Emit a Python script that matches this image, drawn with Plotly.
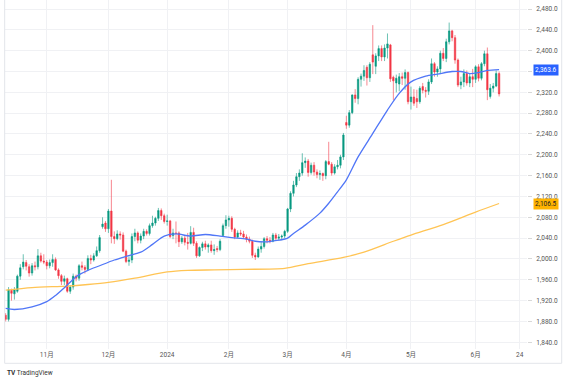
import plotly.graph_objects as go

# trading days by month (day numbers)
MONTH_DAYS = [
    ("2023-10", [12, 13, 16, 17, 18, 19, 20, 23, 24, 25, 26, 27, 30, 31]),
    ("2023-11", [1, 2, 3, 6, 7, 8, 9, 10, 13, 14, 15, 16, 17, 20, 21, 22, 24, 27, 28, 29, 30]),
    ("2023-12", [1, 4, 5, 6, 7, 8, 11, 12, 13, 14, 15, 18, 19, 20, 21, 22, 26, 27, 28, 29]),
    ("2024-01", [2, 3, 4, 5, 8, 9, 10, 11, 12, 16, 17, 18, 19, 22, 23, 24, 25, 26, 29, 30, 31]),
    ("2024-02", [1, 2, 5, 6, 7, 8, 9, 12, 13, 14, 15, 16, 20, 21, 22, 23, 26, 27, 28, 29]),
    ("2024-03", [1, 4, 5, 6, 7, 8, 11, 12, 13, 14, 15, 18, 19, 20, 21, 22, 25, 26, 27, 28]),
    ("2024-04", [1, 2, 3, 4, 5, 8, 9, 10, 11, 12, 15, 16, 17, 18, 19, 22, 23, 24, 25, 26, 29, 30]),
    ("2024-05", [1, 2, 3, 6, 7, 8, 9, 10, 13, 14, 15, 16, 17, 20, 21, 22, 23, 24, 28, 29, 30, 31]),
    ("2024-06", [3, 4, 5, 6, 7, 10, 11, 12, 13]),
]
dates = [f"{m}-{d:02d}" for m, days in MONTH_DAYS for d in days]

opens = [1892, 1884, 1940, 1933, 1938, 1967, 1985, 1993, 1985, 1973, 1987, 1985, 2006, 1996,
         1994, 1987, 1993, 1999, 1979, 1968, 1957, 1962, 1938, 1946, 1967, 1963, 1987, 1984, 1980, 2001, 1998, 2006, 2016, 2062, 2069,
         2058, 2092, 2043, 2039, 2048, 2046, 2015, 1995, 1998, 2043, 2050, 2036, 2044, 2053, 2049, 2064, 2069, 2078, 2093, 2083,
         2072, 2073, 2045, 2050, 2050, 2033, 2040, 2032, 2030, 2051, 2030, 2006, 2022, 2029, 2023, 2027, 2016, 2020, 2018, 2045, 2064,
         2075, 2078, 2057, 2042, 2050, 2048, 2042, 2038, 2034, 2007, 2004, 2019, 2024, 2039, 2036, 2034, 2046, 2040, 2042, 2044,
         2053, 2096, 2126, 2142, 2158, 2165, 2185, 2188, 2166, 2180, 2167, 2162, 2164, 2160, 2187, 2182, 2165, 2177, 2180, 2196,
         2262, 2257, 2281, 2315, 2308, 2345, 2351, 2368, 2348, 2392, 2370, 2390, 2404, 2388, 2405, 2411, 2349, 2338, 2336, 2350, 2347, 2358,
         2302, 2311, 2308, 2302, 2331, 2324, 2322, 2340, 2375, 2359, 2365, 2395, 2385, 2417, 2438, 2425, 2382, 2334, 2340, 2356, 2338, 2350,
         2345, 2369, 2347, 2375, 2394, 2312, 2328, 2332, 2356]
highs = [1896, 1946, 1943, 1946, 1970, 1990, 2009, 1998, 1990, 1992, 1995, 2019, 2012, 2009,
         1998, 1999, 2009, 2003, 1982, 1971, 1968, 1964, 1950, 1972, 1970, 1990, 1995, 1988, 2007, 2008, 2011, 2024, 2046, 2080, 2073,
         2096, 2152, 2053, 2055, 2053, 2051, 2018, 2005, 2049, 2058, 2053, 2049, 2058, 2057, 2068, 2083, 2081, 2098, 2097, 2087,
         2085, 2075, 2058, 2072, 2053, 2044, 2046, 2050, 2063, 2060, 2034, 2024, 2033, 2035, 2030, 2035, 2028, 2025, 2038, 2068, 2084,
         2083, 2082, 2060, 2055, 2056, 2054, 2047, 2043, 2037, 2012, 2024, 2034, 2042, 2044, 2042, 2050, 2050, 2048, 2047, 2056,
         2098, 2130, 2150, 2165, 2172, 2203, 2195, 2192, 2185, 2186, 2172, 2170, 2166, 2190, 2225, 2186, 2182, 2190, 2200, 2242,
         2275, 2286, 2316, 2326, 2349, 2356, 2372, 2372, 2378, 2449, 2395, 2410, 2410, 2412, 2433, 2413, 2352, 2354, 2357, 2358, 2364, 2360,
         2331, 2326, 2325, 2332, 2338, 2330, 2345, 2385, 2378, 2370, 2400, 2405, 2423, 2454, 2440, 2430, 2385, 2350, 2364, 2362, 2355, 2365,
         2372, 2374, 2378, 2400, 2406, 2336, 2338, 2362, 2360]
lows = [1880, 1880, 1920, 1922, 1935, 1960, 1980, 1978, 1966, 1968, 1978, 1980, 1993, 1990,
        1980, 1982, 1985, 1977, 1962, 1950, 1950, 1935, 1933, 1941, 1957, 1958, 1978, 1972, 1977, 1990, 1995, 2004, 2012, 2058, 2052,
        2050, 2030, 2029, 2036, 2037, 2013, 1992, 1987, 1992, 2034, 2030, 2030, 2038, 2045, 2045, 2060, 2064, 2073, 2075, 2068,
        2064, 2040, 2038, 2030, 2023, 2029, 2026, 2018, 2028, 2025, 2002, 2004, 2015, 2018, 2012, 2012, 2008, 2013, 2015, 2043, 2058,
        2062, 2052, 2038, 2040, 2044, 2040, 2032, 2030, 2002, 1998, 2002, 2012, 2020, 2030, 2030, 2032, 2036, 2035, 2036, 2040,
        2050, 2090, 2120, 2138, 2150, 2160, 2175, 2158, 2162, 2160, 2155, 2152, 2150, 2153, 2180, 2160, 2162, 2172, 2174, 2190,
        2250, 2252, 2278, 2300, 2297, 2331, 2342, 2333, 2340, 2355, 2355, 2380, 2380, 2380, 2385, 2340, 2305, 2320, 2322, 2334, 2325, 2297,
        2287, 2294, 2290, 2298, 2318, 2310, 2315, 2336, 2350, 2350, 2355, 2380, 2378, 2412, 2418, 2375, 2330, 2326, 2330, 2333, 2330, 2330,
        2338, 2341, 2343, 2370, 2305, 2308, 2320, 2330, 2312]
closes = [1884, 1941, 1934, 1941, 1967, 1983, 1994, 1986, 1973, 1987, 1985, 2006, 1996, 1994,
          1987, 1993, 1999, 1979, 1968, 1957, 1962, 1938, 1946, 1967, 1963, 1987, 1984, 1980, 2001, 1998, 2006, 2016, 2041, 2067, 2058,
          2092, 2043, 2039, 2048, 2046, 2015, 1995, 1998, 2043, 2050, 2036, 2044, 2053, 2049, 2064, 2069, 2078, 2093, 2083, 2072,
          2073, 2043, 2050, 2049, 2033, 2040, 2032, 2030, 2051, 2030, 2006, 2022, 2029, 2023, 2027, 2016, 2018, 2018, 2034, 2064, 2075,
          2078, 2057, 2042, 2050, 2048, 2042, 2038, 2034, 2007, 2004, 2019, 2024, 2039, 2036, 2034, 2046, 2040, 2042, 2044, 2053,
          2096, 2126, 2142, 2158, 2165, 2185, 2188, 2166, 2180, 2167, 2162, 2164, 2160, 2187, 2182, 2165, 2177, 2180, 2196, 2238,
          2257, 2281, 2315, 2308, 2345, 2351, 2362, 2348, 2374, 2378, 2390, 2404, 2388, 2405, 2413, 2346, 2342, 2347, 2350, 2347, 2358, 2302,
          2311, 2299, 2302, 2328, 2324, 2322, 2340, 2375, 2359, 2365, 2395, 2385, 2417, 2438, 2425, 2382, 2334, 2340, 2356, 2338, 2350, 2345,
          2369, 2347, 2375, 2394, 2325, 2328, 2332, 2356, 2317]

# moving averages
ma_fast_dates = ["2023-10-12", "2023-10-17", "2023-10-25", "2023-11-01", "2023-11-06", "2023-11-10", "2023-11-15",
                 "2023-11-21", "2023-11-28", "2023-12-05", "2023-12-11", "2023-12-18", "2023-12-22", "2023-12-29",
                 "2024-01-05", "2024-01-12", "2024-01-22", "2024-01-29", "2024-02-02", "2024-02-09", "2024-02-14",
                 "2024-02-21", "2024-02-27", "2024-03-01", "2024-03-05", "2024-03-11", "2024-03-18", "2024-03-21",
                 "2024-03-26", "2024-04-01", "2024-04-05", "2024-04-12", "2024-04-19", "2024-04-25", "2024-05-01",
                 "2024-05-08", "2024-05-14", "2024-05-21", "2024-05-24", "2024-05-30", "2024-06-04", "2024-06-07",
                 "2024-06-13"]
ma_fast = [1905, 1903, 1908, 1918, 1930, 1950, 1966, 1978, 1987, 1998, 2005, 2013, 2028, 2044,
           2048, 2044, 2047, 2044, 2041, 2038, 2034, 2033, 2036, 2040, 2049, 2065, 2088, 2107,
           2129, 2152, 2196, 2241, 2286, 2318, 2340, 2351, 2355, 2360, 2360, 2356, 2358, 2362, 2363.6]
ma_slow_dates = ["2023-10-12", "2023-10-25", "2023-11-10", "2023-11-21", "2023-12-01", "2023-12-14", "2024-01-02",
                 "2024-01-11", "2024-01-25", "2024-02-08", "2024-02-29", "2024-03-12", "2024-03-28", "2024-04-09",
                 "2024-04-23", "2024-05-01", "2024-05-16", "2024-06-03", "2024-06-13"]
ma_slow = [1940, 1945, 1948, 1951, 1955, 1963, 1975, 1978, 1979, 1980, 1982, 1991, 2003, 2013,
           2034, 2046, 2066, 2090, 2106.5]

y_ticks = list(range(1840, 2481, 40))
y_ticktext = ["" if v == 2360 else f"{v:,.1f}" for v in y_ticks]
x_tickvals = ["2023-11-01", "2023-12-01", "2024-01-02", "2024-02-01", "2024-03-01", "2024-04-01",
              "2024-05-01", "2024-06-03", "2024-06-24"]
x_ticktext = ["11月", "12月", "2024", "2月", "3月", "4月", "5月", "6月", "24"]
holidays = ["2023-11-23", "2023-12-25", "2024-01-01", "2024-01-15", "2024-02-19", "2024-03-29", "2024-05-27"]

UP = "#089981"
DOWN = "#F23645"
BLUE = "#5076F7"
ORANGE = "#FFC454"
FONT = "Roboto, 'Noto Sans CJK JP', sans-serif"

fig = go.Figure()
fig.add_trace(go.Scatter(x=ma_slow_dates, y=ma_slow, mode="lines",
                         line=dict(color=ORANGE, width=1.3, shape="spline", smoothing=0.8), hoverinfo="skip"))
fig.add_trace(go.Scatter(x=ma_fast_dates, y=ma_fast, mode="lines",
                         line=dict(color=BLUE, width=1.3, shape="spline", smoothing=0.8), hoverinfo="skip"))
fig.add_trace(go.Candlestick(
    x=dates, open=opens, high=highs, low=lows, close=closes,
    increasing=dict(line=dict(color=UP, width=0.6), fillcolor=UP),
    decreasing=dict(line=dict(color=DOWN, width=0.6), fillcolor=DOWN),
    whiskerwidth=0,
))

fig.update_layout(
    width=568, height=382,
    margin=dict(l=5, r=41, t=0, b=33),
    paper_bgcolor="white", plot_bgcolor="white",
    showlegend=False,
    font=dict(family=FONT, size=7, color="#555"),
    xaxis=dict(
        type="date",
        range=["2023-10-11 19:00", "2024-06-26 12:00"],
        rangebreaks=[dict(bounds=["sat", "mon"]), dict(values=holidays)],
        rangeslider=dict(visible=False),
        tickmode="array", tickvals=x_tickvals, ticktext=x_ticktext,
        showgrid=True, gridcolor="#F0F1F4", gridwidth=1,
        showline=False, zeroline=False, ticks="",
        tickfont=dict(size=6.5, color="#555"),
        fixedrange=True,
    ),
    yaxis=dict(
        side="right",
        range=[1827.1, 2497.3],
        tickmode="array", tickvals=y_ticks, ticktext=y_ticktext,
        showgrid=True, gridcolor="#F0F1F4", gridwidth=1,
        showline=False, zeroline=False,
        ticks="outside", ticklen=4, tickcolor="#D8D8D8",
        ticklabelstandoff=3,
        tickfont=dict(size=6.5, color="#555"),
        fixedrange=True,
    ),
)

# last-value labels for the moving averages
fig.add_annotation(x=1.012, xref="paper", xanchor="left", y=ma_fast[-1], yref="y",
                   text=f"{ma_fast[-1]:,.1f}", showarrow=False, bgcolor="#2962FF",
                   font=dict(size=6.5, color="white", family=FONT), borderpad=1)
fig.add_annotation(x=1.012, xref="paper", xanchor="left", y=ma_slow[-1], yref="y",
                   text=f"{ma_slow[-1]:,.1f}", showarrow=False, bgcolor="#FFB300",
                   font=dict(size=6.5, color="#222", family=FONT), borderpad=1)

# chart frame
frame = "#E3E5EA"
fig.add_shape(type="line", xref="paper", yref="paper", x0=-0.0006, x1=-0.0006, y0=1, y1=-0.041,
              line=dict(color=frame, width=1))
fig.add_shape(type="line", xref="paper", yref="paper", x0=1.0665, x1=1.0665, y0=1, y1=-0.041,
              line=dict(color=frame, width=1))
fig.add_shape(type="line", xref="paper", yref="paper", x0=-0.0006, x1=1.0665, y0=-0.041, y1=-0.041,
              line=dict(color=frame, width=1))

# logo
fig.add_annotation(x=0.0, xref="paper", xanchor="left", y=-0.07, yref="paper", yanchor="middle",
                   text="<b>TV</b> TradingView", showarrow=False,
                   font=dict(size=6.5, color="#333", family=FONT))

fig.write_html("out.html", config={"displayModeBar": False},
               post_script="document.body.style.margin='0';document.body.style.overflow='hidden';")
